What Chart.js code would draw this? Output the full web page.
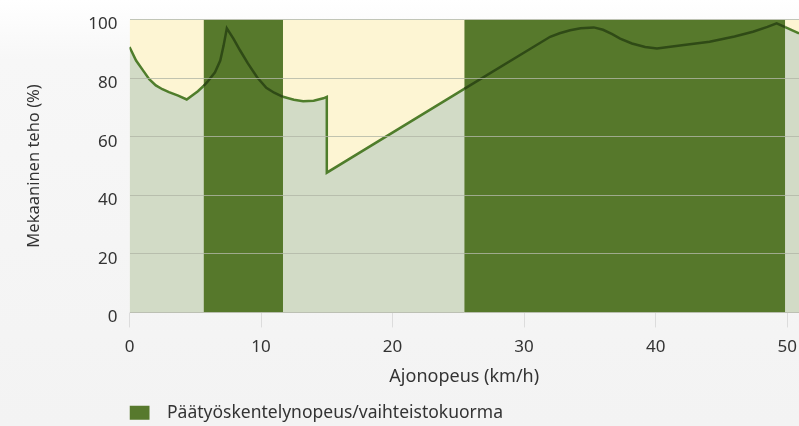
<!DOCTYPE html>
<html>
<head>
<meta charset="utf-8">
<script src="https://cdn.jsdelivr.net/npm/chart.js@4"></script>
<style>
  html, body { margin: 0; padding: 0; }
  body { width: 799px; height: 426px; background: linear-gradient(180deg, #ffffff 0px, #f7f7f7 60px, #f3f3f3 426px); }
  #wrap { width: 799px; height: 426px; }
</style>
</head>
<body>
<div id="wrap"><canvas id="myChart" width="799" height="426"></canvas></div>
<script>
// mechanical efficiency curve (km/h -> %)
var speed = [0, 0.5, 1, 1.5, 2, 2.5, 3, 3.7, 4.35, 5.2, 5.63, 5.9, 6.5, 6.9, 7.15, 7.4, 7.9, 8.4, 9, 9.7, 10.4, 11, 11.67,
             12.5, 13.2, 14, 14.74, 15, 15, 25.45, 31.98, 32.7, 33.5, 34.3, 35.3, 36, 36.7, 37.3, 38.2, 39.2, 40.1,
             42, 44.1, 46, 47.4, 48.5, 49.2, 49.85, 50.9];
var efficiency = [90.6, 86, 82.8, 79.6, 77.5, 76.2, 75.2, 74, 72.7, 75.5, 77.3, 78.6, 82, 86, 91, 97, 93.5, 89.5, 85, 80.3, 76.7, 75, 73.6,
                  72.6, 72.1, 72.3, 73.1, 73.6, 47.7, 76.3, 94.1, 95.3, 96.3, 97, 97.3, 96.5, 95, 93.5, 91.8, 90.6, 90.1,
                  91.2, 92.4, 94.2, 95.8, 97.5, 98.7, 97.4, 95.3];
// main working speed / gearbox load ranges
var bandStart = [5.63, 25.45];
var bandEnd = [11.67, 49.85];
var bandLabel = 'Päätyöskentelynopeus/vaihteistokuorma';

var xTicks = [0, 10, 20, 30, 40, 50];
var yTicks = [0, 20, 40, 60, 80, 100];
var xMax = 50.9;

function inBand(x) {
    for (var i = 0; i < bandStart.length; i++) {
        if (x >= bandStart[i] - 0.001 && x <= bandEnd[i] + 0.001) return true;
    }
    return false;
}

var curve = [];
for (var i = 0; i < speed.length; i++) {
    curve.push({x: speed[i], y: efficiency[i]});
}

var datasets = [];
datasets.push({
    label: 'teho',
    data: curve,
    borderColor: '#4f7d2b',
    borderWidth: 2.5,
    pointRadius: 0,
    tension: 0,
    fill: false,
    segment: {
        borderColor: function (ctx) {
            var mid = (ctx.p0.parsed.x + ctx.p1.parsed.x) / 2;
            return inBand(mid) ? '#2f4a16' : '#4f7d2b';
        }
    }
});
for (var b = 0; b < bandStart.length; b++) {
    datasets.push({
        label: bandLabel,
        data: [{x: bandStart[b], y: 100}, {x: bandEnd[b], y: 100}],
        backgroundColor: 'rgba(82,117,38,0.97)',
        borderWidth: 0,
        pointRadius: 0,
        fill: 'origin'
    });
}
datasets.push({
    label: 'alla',
    data: curve,
    borderWidth: 0,
    pointRadius: 0,
    backgroundColor: '#d2dbc6',
    fill: 'origin'
});
datasets.push({
    label: 'yla',
    data: curve,
    borderWidth: 0,
    pointRadius: 0,
    backgroundColor: '#fdf5d3',
    fill: 'end'
});

Chart.defaults.font.family = '"Noto Sans", sans-serif';
Chart.defaults.color = '#333';

var ctx = document.getElementById('myChart');
var myChart = new Chart(ctx, {
    type: 'line',
    data: {datasets: datasets},
    options: {
        responsive: false,
        animation: false,
        layout: {padding: {left: 20, right: 0, top: 19.5, bottom: -5.5}},
        plugins: {
            tooltip: {enabled: false},
            legend: {
                position: 'bottom',
                align: 'start',
                fullSize: false,
                labels: {
                    boxWidth: 20,
                    boxHeight: 14,
                    padding: 0,
                    color: '#333',
                    font: {size: 17.5},
                    filter: function (item) { return item.datasetIndex === 1; },
                    generateLabels: function (chart) {
                        var items = Chart.defaults.plugins.legend.labels.generateLabels(chart);
                        items.forEach(function (it) { it.text = '\u2002' + it.text; it.lineWidth = 0; });
                        return items;
                    }
                }
            }
        },
        scales: {
            x: {
                type: 'linear',
                min: 0,
                max: xMax,
                afterBuildTicks: function (scale) {
                    scale.ticks = xTicks.map(function (v) { return {value: v}; });
                },
                afterFit: function (scale) { scale.paddingRight = 0; },
                ticks: {font: {size: 17, lineHeight: 1.1}, padding: 10.15, color: '#333'},
                grid: {drawOnChartArea: false, drawTicks: true, tickLength: 15, color: '#dcdcdc'},
                border: {display: true, color: '#e8e8e8'},
                title: {display: true, text: 'Ajonopeus (km/h)', font: {size: 18}, color: '#333', padding: {top: 0, bottom: 16}}
            },
            y: {
                min: 0,
                max: 100,
                afterBuildTicks: function (scale) {
                    scale.ticks = yTicks.map(function (v) { return {value: v}; });
                },
                afterFit: function (scale) {
                    scale.width = 109.5;
                    scale.paddingTop = 0;
                    scale.paddingBottom = 0;
                },
                ticks: {font: {size: 17}, padding: 12, labelOffset: 5, color: '#333'},
                grid: {drawTicks: false, color: 'rgba(178,182,166,0.8)', z: 1},
                border: {display: false},
                title: {display: true, text: 'Mekaaninen teho (%)', font: {size: 16.5}, color: '#333'}
            }
        }
    }
});
</script>
</body>
</html>
